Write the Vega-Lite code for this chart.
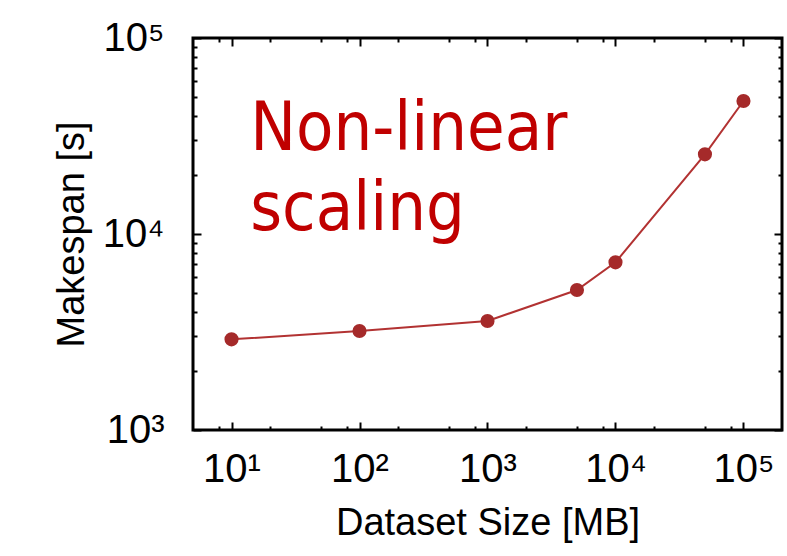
{
  "$schema": "https://vega.github.io/schema/vega-lite/v6.json",
  "width": 589,
  "height": 392,
  "autosize": {"type": "none"},
  "padding": {"left": 193, "top": 38, "right": 5, "bottom": 126},
  "background": "white",
  "config": {
    "view": {"stroke": "black", "strokeWidth": 3},
    "axis": {
      "domain": false,
      "grid": false,
      "zindex": 1,
      "tickColor": "black",
      "tickWidth": 2,
      "labelFont": "Liberation Sans",
      "labelFontSize": 40,
      "labelColor": "black",
      "labelOverlap": false,
      "labelFlush": false,
      "labelBound": false,
      "titleFont": "Liberation Sans",
      "titleFontSize": 38,
      "titleFontWeight": "normal",
      "titleColor": "black"
    }
  },
  "data": {
    "values": [
      {"size": 10, "makespan": 2900},
      {"size": 100, "makespan": 3200},
      {"size": 1000, "makespan": 3600},
      {"size": 5000, "makespan": 5180},
      {"size": 10000, "makespan": 7170},
      {"size": 50000, "makespan": 25500},
      {"size": 100000, "makespan": 47700}
    ]
  },
  "layer": [
    {
      "mark": {"type": "line", "color": "#b23232", "strokeWidth": 2},
      "encoding": {
        "x": {
          "field": "size", "type": "quantitative",
          "scale": {"type": "log", "domain": [5, 200000], "nice": false},
          "axis": {
            "orient": "bottom",
            "title": "Dataset Size [MB]",
            "titlePadding": 11,
            "values": [8, 10, 20, 50, 80, 100, 200, 500, 800, 1000, 2000, 5000, 8000, 10000, 20000, 50000, 80000, 100000],
            "tickSize": {"condition": {"test": "abs(log(datum.value)/LN10 - round(log(datum.value)/LN10)) < 0.000001", "value": -8}, "value": -4},
            "labelPadding": 27,
            "labelExpr": "abs(log(datum.value)/LN10 - round(log(datum.value)/LN10)) < 0.000001 ? '10' + ['⁰','¹','²','³','⁴','⁵','⁶'][round(log(datum.value)/LN10)] : ''"
          }
        },
        "y": {
          "field": "makespan", "type": "quantitative",
          "scale": {"type": "log", "domain": [1000, 100000], "nice": false},
          "axis": {
            "orient": "left",
            "title": "Makespan [s]",
            "titlePadding": 11,
            "values": [1000, 2000, 3000, 4000, 5000, 6000, 7000, 8000, 9000, 10000, 20000, 30000, 40000, 50000, 60000, 70000, 80000, 90000, 100000],
            "tickSize": {"condition": {"test": "abs(log(datum.value)/LN10 - round(log(datum.value)/LN10)) < 0.000001", "value": -8}, "value": -4},
            "labelPadding": 37,
            "labelExpr": "abs(log(datum.value)/LN10 - round(log(datum.value)/LN10)) < 0.000001 ? '10' + ['⁰','¹','²','³','⁴','⁵','⁶'][round(log(datum.value)/LN10)] : ''"
          }
        }
      }
    },
    {
      "mark": {"type": "point", "filled": true, "size": 200, "color": "#a52a2a", "opacity": 1},
      "encoding": {
        "x": {
          "field": "size", "type": "quantitative",
          "scale": {"type": "log", "domain": [5, 200000], "nice": false},
          "axis": {
            "orient": "top",
            "title": null,
            "labels": false,
            "values": [8, 10, 20, 50, 80, 100, 200, 500, 800, 1000, 2000, 5000, 8000, 10000, 20000, 50000, 80000, 100000],
            "tickSize": {"condition": {"test": "abs(log(datum.value)/LN10 - round(log(datum.value)/LN10)) < 0.000001", "value": -8}, "value": -4}
          }
        },
        "y": {
          "field": "makespan", "type": "quantitative",
          "scale": {"type": "log", "domain": [1000, 100000], "nice": false},
          "axis": {
            "orient": "right",
            "title": null,
            "labels": false,
            "values": [1000, 2000, 3000, 4000, 5000, 6000, 7000, 8000, 9000, 10000, 20000, 30000, 40000, 50000, 60000, 70000, 80000, 90000, 100000],
            "tickSize": {"condition": {"test": "abs(log(datum.value)/LN10 - round(log(datum.value)/LN10)) < 0.000001", "value": -8}, "value": -4}
          }
        }
      }
    },
    {
      "data": {"values": [{"note": "Non-linear\nscaling", "nx": 14, "ny": 26800}]},
      "mark": {"type": "text", "align": "left", "baseline": "alphabetic", "font": "DejaVu Sans Condensed, DejaVu Sans", "fontSize": 68, "lineHeight": 80, "lineBreak": "\n", "color": "#c00000"},
      "encoding": {
        "x": {"field": "nx", "type": "quantitative", "scale": {"type": "log", "domain": [5, 200000], "nice": false}, "axis": null},
        "y": {"field": "ny", "type": "quantitative", "scale": {"type": "log", "domain": [1000, 100000], "nice": false}, "axis": null},
        "text": {"field": "note"}
      }
    }
  ],
  "resolve": {"axis": {"x": "independent", "y": "independent"}}
}
